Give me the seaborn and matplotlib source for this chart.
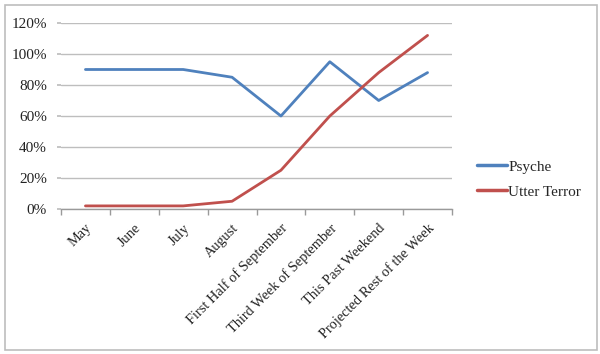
import matplotlib
matplotlib.use("Agg")
import matplotlib.pyplot as plt
import seaborn as sns
import pandas as pd
import numpy as np
from matplotlib.ticker import FixedLocator, PercentFormatter
from matplotlib.patches import Rectangle

categories = ["May", "June", "July", "August", "First Half of September",
              "Third Week of September", "This Past Weekend", "Projected Rest of the Week"]
psyche = [90, 90, 90, 85, 60, 95, 70, 88]
terror = [2, 2, 2, 5, 25, 60, 88, 112]
series_names = ["Psyche", "Utter Terror"]
yticks = [0, 20, 40, 60, 80, 100, 120]

df = pd.DataFrame({
    "period": categories * 2,
    "value": psyche + terror,
    "series": [series_names[0]] * len(categories) + [series_names[1]] * len(categories),
})

sns.set_theme(style="white")
plt.rcParams["font.family"] = ["Liberation Serif", "DejaVu Serif"]

fig = plt.figure(figsize=(6.0, 3.54), dpi=100)
ax = fig.add_axes([61/600, 1 - 209/354, (452-61)/600, (209-23)/354])

sns.lineplot(data=df, x="period", y="value", hue="series",
             palette=["#4F81BD", "#C0504D"], linewidth=2.0, ax=ax, sort=False)

ax.set_xlim(-0.5, len(categories) - 0.5)
ax.set_ylim(0, 120)
ax.set_yticks(yticks)
ax.yaxis.set_major_formatter(PercentFormatter(decimals=0))
ax.grid(axis="y", color="#BEBEBE", linewidth=1.0)
ax.set_axisbelow(True)
for s in ["top", "right", "left"]:
    ax.spines[s].set_visible(False)
ax.spines["bottom"].set_color("#9A9A9A")
ax.spines["bottom"].set_linewidth(1.0)

ax.set_xticks(range(len(categories)))
ax.set_xticklabels(categories, rotation=45, ha="right", rotation_mode="anchor",
                   fontsize=10.4, color="#222222")
ax.xaxis.set_minor_locator(FixedLocator(np.arange(-0.5, len(categories), 1.0)))
ax.tick_params(axis="x", which="major", length=0, pad=9)
ax.tick_params(axis="x", which="minor", length=4, color="#9A9A9A", width=1, bottom=True)
ax.tick_params(axis="y", length=3, color="#BEBEBE", left=True, labelsize=11, labelcolor="#222222", pad=7)
ax.set_xlabel("")
ax.set_ylabel("")

leg = ax.legend(loc="center left", bbox_to_anchor=(1.03, 0.16), frameon=False,
                fontsize=11, handlelength=1.9, handletextpad=0.1, labelspacing=0.75)
for line in leg.get_lines():
    line.set_linewidth(2.5)

fig.patches.append(Rectangle((5/600, 4/354), 592/600, 345/354, transform=fig.transFigure,
                             fill=False, edgecolor="#BDBDBD", linewidth=1.2))

fig.savefig("out.png", dpi=100)
